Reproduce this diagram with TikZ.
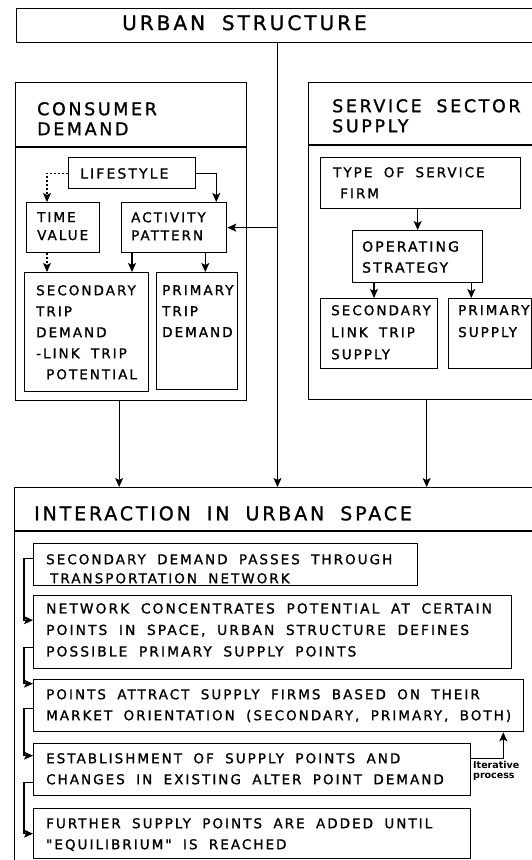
\documentclass[tikz,border=0pt]{standalone}
\usepackage{fontspec}
\setmainfont{DejaVu Sans}
\newfontfamily\letterfont[LetterSpace=15,WordSpace=1.8,FakeBold=1.2]{DejaVu Sans}
\usepackage{tikz}
\usetikzlibrary{arrows.meta,positioning}

\begin{document}
\begin{tikzpicture}[x=1pt,y=-1pt,
    box/.style 2 args={draw, line width=1.3pt, anchor=north west, inner sep=0pt,
      minimum width=#1, minimum height=#2},
    txt/.style={anchor=north west, align=left, inner sep=0pt,
      font=\letterfont\fontsize{13.5}{21}\selectfont},
    head/.style={txt, font=\letterfont\fontsize{17.5}{20}\selectfont},
    arr/.style={line width=1.1pt, -{Stealth[length=9pt,width=8pt,inset=2pt]}},
    dotarr/.style={arr, dash pattern=on 2pt off 2pt}]
  \useasboundingbox (0,0) rectangle (532,860);

  % top level
  \node[box={560pt}{34pt}] (urban) at (16,8) {};
  \node[head, font=\letterfont\fontsize{20}{22}\selectfont] (urbantxt) at (122,15) {URBAN STRUCTURE};
  \coordinate (spine) at (277.5,42);

  % consumer demand
  \node[box={231pt}{318pt}] (cons) at (15,82) {};
  \draw[line width=1.3pt] (cons.north west) ++(0,65) -- ++(231,0);
  \node[head] (constxt) at (37,102) {CONSUMER\\DEMAND};

  \node[box={127pt}{31pt}] (life) at (68,157) {};
  \node[txt, font=\letterfont\fontsize{14}{21}\selectfont] (lifetxt) at (80,168) {LIFESTYLE};
  \node[box={73pt}{50pt}] (time) at (26,202) {};
  \node[txt, font=\letterfont\fontsize{13.5}{18}\selectfont] (timetxt) at (37,212) {TIME\\VALUE};
  \node[box={105pt}{50pt}] (act) at (121,202) {};
  \node[txt, font=\letterfont\fontsize{13.5}{18}\selectfont] (acttxt) at (131,212) {ACTIVITY\\PATTERN};
  \node[box={124pt}{119pt}] (sec) at (24,272) {};
  \node[txt] (sectxt) at (36,285) {SECONDARY\\TRIP\\DEMAND\\-LINK TRIP\\\hspace*{10pt}POTENTIAL};
  \node[box={81pt}{117pt}] (prim) at (156,272) {};
  \node[txt] (primtxt) at (162,285) {PRIMARY\\TRIP\\DEMAND};

  % service sector supply
  \node[box={260pt}{317pt}] (serv) at (308,82) {};
  \draw[line width=1.3pt] (serv.north west) ++(0,63) -- ++(260,0);
  \node[head] (servtxt) at (332,99) {SERVICE SECTOR\\SUPPLY};

  \node[box={200pt}{51pt}] (type) at (320,157) {};
  \node[txt] (typetxt) at (333,167) {TYPE OF SERVICE\\\hspace*{7pt}FIRM};
  \node[box={130pt}{52pt}] (oper) at (352,230) {};
  \node[txt, font=\letterfont\fontsize{14}{21}\selectfont] (opertxt) at (362,241) {OPERATING\\STRATEGY};
  \node[box={117pt}{70pt}] (slink) at (320,298) {};
  \node[txt, font=\letterfont\fontsize{13.5}{22}\selectfont] (slinktxt) at (331,305) {SECONDARY\\LINK TRIP\\SUPPLY};
  \node[box={83pt}{70pt}] (psup) at (448,298) {};
  \node[txt, font=\letterfont\fontsize{13.5}{22}\selectfont] (psuptxt) at (458,305) {PRIMARY\\SUPPLY};

  % interaction in urban space
  \node[box={560pt}{400pt}] (inter) at (14,487) {};
  \draw[line width=1.3pt] (inter.north west) ++(0,44) -- ++(560,0);
  \node[head, font=\letterfont\fontsize{19}{20}\selectfont] (intertxt) at (34,506) {INTERACTION IN URBAN SPACE};

  \node[box={384pt}{42pt}] (b1) at (33,543) {};
  \node[txt, font=\letterfont\fontsize{13.5}{19}\selectfont] (b1txt) at (46,554) {SECONDARY DEMAND PASSES THROUGH\\\hspace*{4pt}TRANSPORTATION NETWORK};
  \node[box={478pt}{73pt}] (b2) at (33,595) {};
  \node[txt, font=\letterfont\fontsize{13.8}{21.5}\selectfont] (b2txt) at (46,603) {NETWORK CONCENTRATES POTENTIAL AT CERTAIN\\POINTS IN SPACE, URBAN STRUCTURE DEFINES\\POSSIBLE PRIMARY SUPPLY POINTS};
  \node[box={490pt}{52pt}] (b3) at (33,679) {};
  \node[txt] (b3txt) at (46,689) {POINTS ATTRACT SUPPLY FIRMS BASED ON THEIR\\MARKET ORIENTATION (SECONDARY, PRIMARY, BOTH)};
  \node[box={437pt}{52pt}] (b4) at (33,743) {};
  \node[txt] (b4txt) at (46,753) {ESTABLISHMENT OF SUPPLY POINTS AND\\CHANGES IN EXISTING ALTER POINT DEMAND};
  \node[box={437pt}{50pt}] (b5) at (33,808) {};
  \node[txt] (b5txt) at (46,818) {FURTHER SUPPLY POINTS ARE ADDED UNTIL\\"EQUILIBRIUM" IS REACHED};
  \node[anchor=north west, align=left, inner sep=0pt,
    font=\bfseries\fontsize{9.5}{10.5}\selectfont] (itertxt) at (473,761) {Iterative\\process};

  % connectors
  \draw[arr] (urban.south -| spine) -- (inter.north -| spine);
  \draw[arr] (spine |- act.east) -- (act.east);
  \draw[arr] ([xshift=-12pt]cons.south) -- ([xshift=-12pt]cons.south |- inter.north);
  \draw[arr] ([xshift=-12pt]serv.south) -- ([xshift=-12pt]serv.south |- inter.north);

  \draw[dotarr] (life.west) -| ([xshift=21pt]time.north west);
  \draw[dotarr] ([xshift=21pt]time.south west) -- ([xshift=21pt]time.south west |- sec.north);
  \draw[arr] (life.east) -| ([xshift=-11pt]act.north east);
  \draw[arr] ([xshift=11pt]act.south west) -- ([xshift=11pt]act.south west |- sec.north);
  \draw[arr] ([xshift=-22pt]act.south east) -- ([xshift=-22pt]act.south east |- prim.north);

  \draw[arr] (type.south -| oper.north) -- (oper.north);
  \draw[arr] ([xshift=22pt]oper.south west) -- ([xshift=22pt]oper.south west |- slink.north);
  \draw[arr] ([xshift=-12pt]oper.south east) -- ([xshift=-12pt]oper.south east |- psup.north);

  \draw[arr] ([yshift=6pt]b1.west) -- ++(-9,0) |- ([yshift=12pt]b2.west);
  \draw[arr] ([yshift=-15pt]b2.west) -- ++(-9,0) |- ([yshift=22pt]b3.west);
  \draw[arr] ([yshift=-3pt]b3.west) -- ++(-9,0) |- ([yshift=14pt]b4.west);
  \draw[arr] ([yshift=-13pt]b4.west) -- ++(-9,0) |- ([yshift=0pt]b5.west);
  \draw[arr] ([yshift=11pt]b4.east) -| ([xshift=-21pt]b3.south east);
\end{tikzpicture}
\end{document}
